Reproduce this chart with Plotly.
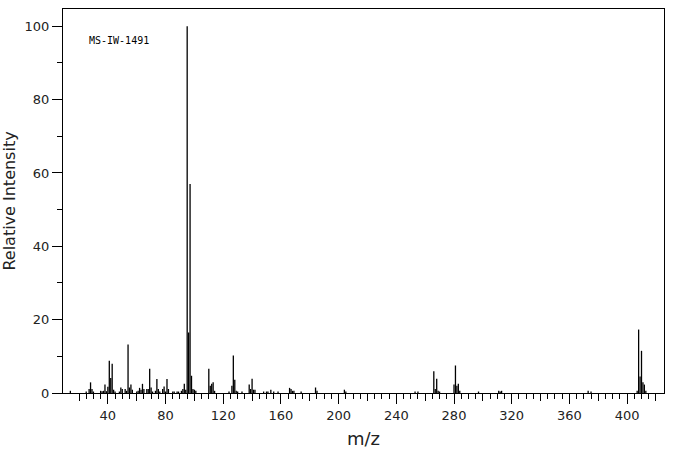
import plotly.graph_objects as go

# m/z values and relative intensities
mz = [14, 25, 27, 28, 29, 30, 35, 36, 37, 38, 39, 40, 41, 42, 43, 44, 45, 48, 49, 50,
      52, 53, 54, 55, 56, 57, 60, 61, 62, 63, 64, 65, 67, 68, 69, 70, 71, 73, 74, 75,
      76, 78, 79, 80, 81, 82, 85, 86, 88, 89, 91, 92, 93, 94, 95, 96, 97, 98, 99, 100,
      101, 110, 111, 112, 113, 114, 124, 126, 127, 128, 129, 130, 133, 138, 139, 140, 141, 142, 148, 150,
      151, 153, 155, 158, 166, 167, 168, 169, 174, 184, 185, 204, 205, 253, 255, 266, 267, 268, 269, 270,
      280, 281, 282, 283, 284, 297, 311, 312, 313, 373, 375, 407, 408, 409, 410, 411, 412, 413]
intensity = [0.6, 0.4, 1.1, 2.9, 1.1, 0.4, 0.6, 0.5, 0.6, 2.3, 0.5, 1.7, 8.8, 4.1, 8.0, 0.9, 0.4, 0.4, 1.5, 1.1,
             1.1, 0.6, 13.2, 1.5, 2.3, 0.9, 0.4, 0.6, 1.4, 0.9, 2.5, 1.1, 1.1, 1.1, 6.6, 1.5, 0.4, 0.6, 3.8, 1.1,
             0.4, 1.1, 1.8, 0.4, 3.8, 1.1, 0.4, 0.4, 0.4, 0.4, 0.6, 1.1, 2.5, 0.9, 100.0, 16.5, 57.0, 4.7, 1.1, 0.9,
             0.6, 6.6, 2.0, 2.5, 2.9, 0.6, 0.4, 2.0, 10.2, 3.6, 0.6, 0.4, 0.4, 2.3, 1.1, 3.9, 0.9, 0.9, 0.4, 0.4,
             0.4, 0.9, 0.4, 0.4, 1.4, 1.1, 0.6, 0.6, 0.4, 1.5, 0.6, 0.9, 0.4, 0.4, 0.4, 5.9, 1.1, 3.9, 0.6, 0.4,
             2.3, 7.5, 2.0, 2.5, 0.6, 0.4, 0.6, 0.4, 0.6, 0.6, 0.4, 0.6, 17.3, 4.5, 11.5, 2.9, 2.3, 0.6]

x_label_ticks = list(range(40, 421, 40))
x_mid_ticks = list(range(20, 421, 20))
x_minor_ticks = list(range(20, 421, 5))
y_ticks = list(range(0, 101, 20))
title_text = "MS-IW-1491"

# build stems (vertical lines from 0 to intensity)
sx, sy = [], []
for m, v in zip(mz, intensity):
    sx += [m, m, None]
    sy += [0, v, None]

XR = [8.9, 425.6]
YR = [0, 104.7]
FONT = "DejaVu Sans"

fig = go.Figure()
fig.add_trace(go.Scatter(x=sx, y=sy, mode="lines",
                         line=dict(color="black", width=1.3),
                         hoverinfo="skip", showlegend=False))
# invisible helper traces for the overlay tick axes
fig.add_trace(go.Scatter(x=[XR[0]], y=[0], xaxis="x2", mode="markers",
                         marker=dict(opacity=0), hoverinfo="skip", showlegend=False))
fig.add_trace(go.Scatter(x=[XR[0]], y=[0], xaxis="x3", mode="markers",
                         marker=dict(opacity=0), hoverinfo="skip", showlegend=False))

fig.update_layout(
    template="none",
    width=676, height=455,
    margin=dict(l=63, r=12, t=9, b=62),
    paper_bgcolor="white", plot_bgcolor="white",
    font=dict(family=FONT, color="#222222"),
    xaxis=dict(range=XR, tickmode="array", tickvals=x_label_ticks,
               ticks="outside", ticklen=10, tickwidth=1, tickcolor="black",
               showline=True, linecolor="black", linewidth=1, mirror=True,
               showgrid=False, zeroline=False, automargin=False,
               tickfont=dict(size=13, family=FONT, color="#222222"),
               title=dict(text="m/z", font=dict(size=18, family=FONT, color="#222222"),
                          standoff=10)),
    xaxis2=dict(range=XR, overlaying="x", anchor="y", side="bottom",
                tickmode="array", tickvals=x_mid_ticks, ticks="outside", ticklen=7,
                tickwidth=1, tickcolor="black", showticklabels=False,
                showline=False, showgrid=False, zeroline=False, automargin=False),
    xaxis3=dict(range=XR, overlaying="x", anchor="y", side="bottom",
                tickmode="array", tickvals=x_minor_ticks, ticks="outside", ticklen=5,
                tickwidth=1, tickcolor="black", showticklabels=False,
                showline=False, showgrid=False, zeroline=False, automargin=False),
    yaxis=dict(range=YR, tickmode="array", tickvals=y_ticks,
               ticks="outside", ticklen=10, tickwidth=1, tickcolor="black",
               minor=dict(dtick=10, tick0=0, ticks="outside", ticklen=5,
                          tickwidth=1, tickcolor="black", showgrid=False),
               showline=True, linecolor="black", linewidth=1, mirror=True,
               showgrid=False, zeroline=False, automargin=False,
               tickfont=dict(size=13, family=FONT, color="#222222"),
               title=dict(text="Relative Intensity",
                          font=dict(size=16, family=FONT, color="#222222"),
                          standoff=6)),
    annotations=[dict(text=title_text, xref="paper", yref="paper",
                      x=0.04, y=0.917, xanchor="left", yanchor="middle",
                      showarrow=False,
                      font=dict(size=10, family="DejaVu Sans Mono", color="black"))],
)

fig.write_html("out.html")
